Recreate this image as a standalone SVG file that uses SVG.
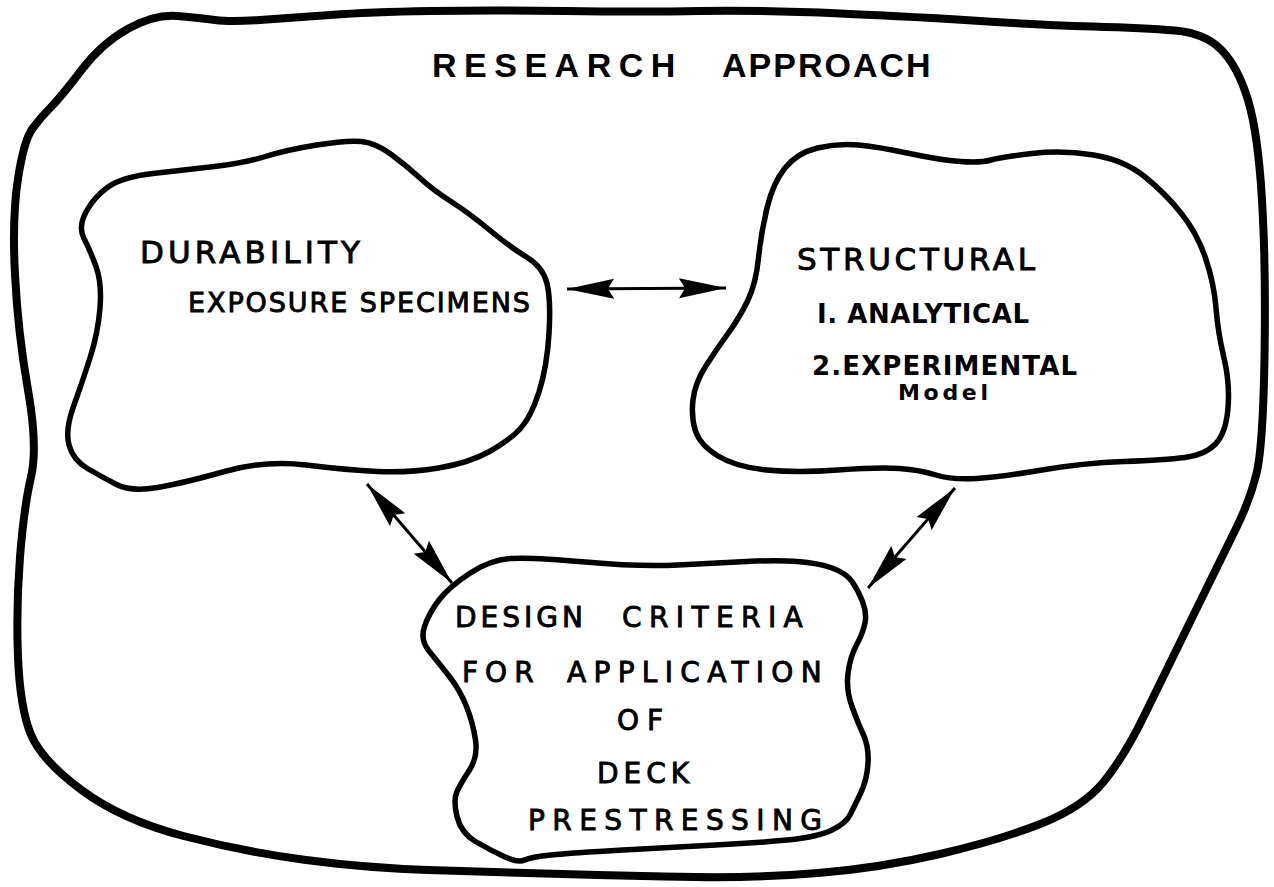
<svg xmlns="http://www.w3.org/2000/svg" width="1274" height="887" viewBox="0 0 1274 887">
  <style>
    .blob { fill: none; stroke: #000; stroke-linejoin: round; stroke-linecap: round; }
    .outer { stroke-width: 8; }
    .inner { stroke-width: 5.5; }
    .title { font-family: "Liberation Sans", Arial, sans-serif; font-weight: bold; fill: #000; }
    .lbl { font-family: "DejaVu Sans", "Liberation Sans", sans-serif; fill: #000; font-weight: normal; stroke: #000; stroke-width: 0.9; }
    .strong { font-family: "DejaVu Sans", "Liberation Sans", sans-serif; fill: #000; font-weight: bold; }
    .link { fill: none; stroke: #000; stroke-width: 3; }
  </style>
  <defs>
    <marker id="head" viewBox="0 -11 48 22" refX="47" refY="0" markerWidth="48" markerHeight="22" markerUnits="userSpaceOnUse" orient="auto-start-reverse">
      <path d="M47,0 L0,-10 L6,0 L0,10 Z" fill="#000"/>
    </marker>
  </defs>
  <rect width="1274" height="887" fill="#fff"/>

  <!-- enclosing outline with the title -->
  <g id="research-approach">
    <path class="blob outer" d="M 128.5,28.5 Q 155,14 177.5,16 Q 200,18 215,20 Q 230,22 260,20 Q 290,18 330,15 Q 370,12 430,11 Q 490,10 565,11 Q 640,12 700,11 Q 760,10 840,13.5 Q 920,17 980,21 Q 1040,25 1092.5,26.5 Q 1145,28 1175,30.5 Q 1205,33 1221.5,50 Q 1238,67 1248,100 Q 1258,133 1262,200 Q 1266,267 1264.5,357 Q 1263,447 1256.5,473.5 Q 1250,500 1236,528.5 Q 1222,557 1193.5,615 Q 1165,673 1144.5,715 Q 1124,757 1103.5,782 Q 1083,807 1041.5,823.5 Q 1000,840 940,854 Q 880,868 818,873 Q 756,878 695,877 Q 634,876 562,874 Q 490,872 428.5,870 Q 367,868 306,860 Q 245,852 183.5,836 Q 122,820 81.5,790 Q 41,760 30.5,733.5 Q 20,707 18,657 Q 16,607 20,557 Q 24,507 31,477 Q 38,447 28,390 Q 18,333 15,275 Q 12,217 18,178.5 Q 24,140 32.5,128.5 Q 41,117 51,107 Q 61,97 81.5,70 Q 102,43 128.5,28.5 Z"/>
    <text class="title" font-size="34" y="77"><tspan x="432" letter-spacing="7.5">RESEARCH </tspan><tspan x="722" letter-spacing="2">APPROACH</tspan></text>
  </g>

  <!-- durability -->
  <g id="durability">
    <path class="blob inner" d="M 86,212 Q 94,197 108,187 Q 122,177 153,173.5 Q 184,170 214.5,166.5 Q 245,163 265.5,156.5 Q 286,150 316.5,145 Q 347,140 361.5,141.5 Q 376,143 392,155 Q 408,167 420.5,178.5 Q 433,190 451,201.5 Q 469,213 489.5,230 Q 510,247 526.5,257 Q 543,267 547,283.5 Q 551,300 549,333.5 Q 547,367 539,392 Q 531,417 520.5,428.5 Q 510,440 489.5,451.5 Q 469,463 438.5,468 Q 408,473 377.5,471.5 Q 347,470 306,465 Q 265,460 224.5,471.5 Q 184,483 157.5,487.5 Q 131,492 116.5,484.5 Q 102,477 87.5,468.5 Q 73,460 69,445 Q 65,430 73.5,406.5 Q 82,383 90,358 Q 98,333 100,308 Q 102,283 96,266.5 Q 90,250 84,238.5 Q 78,227 86,212 Z"/>
    <text class="lbl" font-size="31" x="140" y="263" textLength="220" lengthAdjust="spacing">DURABILITY</text>
    <text class="lbl" font-size="27" x="188" y="312" textLength="342" lengthAdjust="spacing">EXPOSURE SPECIMENS</text>
  </g>

  <!-- structural -->
  <g id="structural">
    <path class="blob inner" d="M 785,168 Q 797,153 817.5,148 Q 838,143 858.5,145 Q 879,147 909.5,153.5 Q 940,160 960.5,161.5 Q 981,163 991,160 Q 1001,157 1032,153.5 Q 1063,150 1093.5,155 Q 1124,160 1144.5,176.5 Q 1165,193 1181,213 Q 1197,233 1205.5,258 Q 1214,283 1216,308 Q 1218,333 1224,358 Q 1230,383 1228,408 Q 1226,433 1215.5,444 Q 1205,455 1185,457.5 Q 1165,460 1124,461.5 Q 1083,463 1042,470 Q 1001,477 976.5,478.5 Q 952,480 936,475 Q 920,470 899.5,468.5 Q 879,467 838,470 Q 797,473 766.5,470 Q 736,467 718,456 Q 700,445 695.5,431 Q 691,417 693,400 Q 695,383 705.5,366.5 Q 716,350 728,333.5 Q 740,317 748,300 Q 756,283 758.5,258 Q 761,233 767,208 Q 773,183 785,168 Z"/>
    <text class="lbl" font-size="31" x="797" y="270" textLength="238" lengthAdjust="spacing">STRUCTURAL</text>
    <text class="strong" font-size="26" x="817" y="323" textLength="212" lengthAdjust="spacing">I. ANALYTICAL</text>
    <text class="strong" font-size="26" x="812" y="375" textLength="265" lengthAdjust="spacing">2.EXPERIMENTAL</text>
    <text class="strong" font-size="22" x="898" y="400" textLength="90" lengthAdjust="spacing">Model</text>
  </g>

  <!-- design criteria -->
  <g id="design-criteria">
    <path class="blob inner" d="M 439,600 Q 449,587 469.5,573.5 Q 490,560 510.5,558.5 Q 531,557 585.5,562 Q 640,567 678,565 Q 716,563 746.5,561.5 Q 777,560 797.5,561.5 Q 818,563 832,568 Q 846,573 852,581.5 Q 858,590 862.5,601.5 Q 867,613 865,623 Q 863,633 856.5,645 Q 850,657 848,673.5 Q 846,690 852,706.5 Q 858,723 863.5,735 Q 869,747 868,763.5 Q 867,780 860.5,793.5 Q 854,807 850,815 Q 846,823 832,830 Q 818,837 787,840 Q 756,843 715.5,845 Q 675,847 623,850 Q 571,853 551,855 Q 531,857 524.5,860 Q 518,863 504,856.5 Q 490,850 475.5,841.5 Q 461,833 457,816.5 Q 453,800 457,791.5 Q 461,783 469.5,770 Q 478,757 475.5,740 Q 473,723 466.5,706.5 Q 460,690 449,676 Q 438,662 429,651 Q 420,640 424.5,626.5 Q 429,613 439,600 Z"/>
    <text class="lbl" font-size="28" y="627"><tspan x="455" letter-spacing="4">DESIGN </tspan><tspan x="622" letter-spacing="7.4">CRITERIA</tspan></text>
    <text class="lbl" font-size="28" y="682"><tspan x="462" letter-spacing="7">FOR </tspan><tspan x="567" letter-spacing="7.3">APPLICATION</tspan></text>
    <text class="lbl" font-size="28" x="617" y="730" textLength="46" lengthAdjust="spacing">OF</text>
    <text class="lbl" font-size="28" x="597" y="783" textLength="92" lengthAdjust="spacing">DECK</text>
    <text class="lbl" font-size="28" x="528" y="830" textLength="294" lengthAdjust="spacing">PRESTRESSING</text>
  </g>

  <!-- two-way links between the areas -->
  <g id="connectors">
    <line class="link" x1="567" y1="289" x2="726" y2="288" marker-start="url(#head)" marker-end="url(#head)"/>
    <line class="link" x1="367" y1="484" x2="452" y2="583" marker-start="url(#head)" marker-end="url(#head)"/>
    <line class="link" x1="955" y1="488" x2="868" y2="588" marker-start="url(#head)" marker-end="url(#head)"/>
  </g>
</svg>
